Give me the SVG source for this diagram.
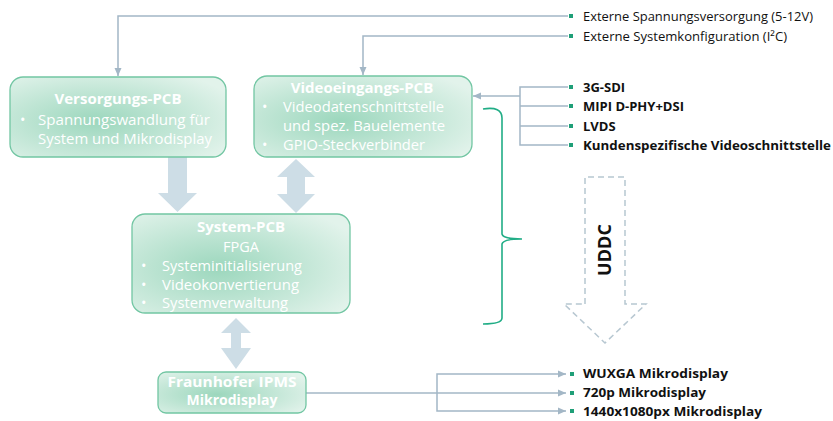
<svg xmlns="http://www.w3.org/2000/svg" width="833" height="421" viewBox="0 0 833 421">
<defs>
<radialGradient id="g" cx="0.4" cy="0.55" r="0.7">
<stop offset="0" stop-color="#9cd7bd"/>
<stop offset="1" stop-color="#e2f3eb"/>
</radialGradient>
<marker id="ah" viewBox="0 0 8 8" refX="8" refY="4" markerWidth="8" markerHeight="8" markerUnits="userSpaceOnUse" orient="auto">
<path d="M0,0.5 L8,4 L0,7.5 z" fill="#a3b7c6"/>
</marker>
<style>
.box{fill:url(#g);stroke:#72c6a3;stroke-width:1.3}
.t{font-family:"Open Sans","Noto Sans",sans-serif;fill:#fff}
.b{font-weight:bold;font-size:15px}
.n{font-size:14.5px;font-weight:normal}
.ln{fill:none;stroke:#a3b7c6;stroke-width:1.5}
.big{fill:#cddde6}
.sq{fill:#1f9f78}
.lbl{font-family:"Open Sans","Noto Sans",sans-serif;font-size:13px;fill:#111}
.lb{font-weight:bold}
</style>
</defs>

<g id="connectors">
<path class="ln" d="M568,16 H118 V76" marker-end="url(#ah)"/>
<path class="ln" d="M568,36 H363 V75" marker-end="url(#ah)"/>
<path class="ln" d="M520,96 H473" marker-end="url(#ah)"/>
<path class="ln" d="M568,87 H520 V145 H568 M520,106 H568 M520,126 H568"/>
<path class="ln" d="M306,393 H566" marker-end="url(#ah)"/>
<path class="ln" d="M437,393 V374 H566" marker-end="url(#ah)"/>
<path class="ln" d="M437,393 V411 H566" marker-end="url(#ah)"/>
<path class="big" d="M168,157 H187 V193 H197 L177.5,212 L158,193 H168 z"/>
<path class="big" d="M296,159 L315,177 H305 V194 H315 L296,213 L277,194 H287 V177 H277 z"/>
<path class="big" d="M236,318 L251,333 H241 V348 H251 L236,369 L221,348 H231 V333 H221 z"/>
<path d="M483,109 Q502,106 502,118 V234 Q503,239 522,239 Q503,239 502,244 V318 Q502,324 483,324" fill="none" stroke="#21ad86" stroke-width="1.6"/>
<path d="M585,304 V177 H625 V304 H646 L605,343 L564,304 z" fill="none" stroke="#b7c7d1" stroke-width="1.5" stroke-dasharray="6,4"/>
</g>

<g id="markers">
<rect class="sq" x="569" y="14" width="4" height="4"/>
<rect class="sq" x="569" y="34" width="4" height="4"/>
<rect class="sq" x="569" y="85" width="4" height="4"/>
<rect class="sq" x="569" y="104" width="4" height="4"/>
<rect class="sq" x="569" y="124" width="4" height="4"/>
<rect class="sq" x="569" y="143" width="4" height="4"/>
<rect class="sq" x="570" y="372" width="4" height="4"/>
<rect class="sq" x="570" y="391" width="4" height="4"/>
<rect class="sq" x="570" y="409" width="4" height="4"/>
</g>

<g id="labels">
<text class="lbl" x="583" y="21" textLength="230" lengthAdjust="spacingAndGlyphs">Externe Spannungsversorgung (5-12V)</text>
<text class="lbl" x="583" y="41" textLength="204" lengthAdjust="spacingAndGlyphs">Externe Systemkonfiguration (I²C)</text>
<text class="lbl lb" x="583" y="92">3G-SDI</text>
<text class="lbl lb" x="583" y="111">MIPI D-PHY+DSI</text>
<text class="lbl lb" x="583" y="131">LVDS</text>
<text class="lbl lb" x="583" y="150" textLength="248" lengthAdjust="spacingAndGlyphs">Kundenspezifische Videoschnittstelle</text>
<text class="lbl lb" x="583" y="378" textLength="145" lengthAdjust="spacingAndGlyphs">WUXGA Mikrodisplay</text>
<text class="lbl lb" x="583" y="397" textLength="123" lengthAdjust="spacingAndGlyphs">720p Mikrodisplay</text>
<text class="lbl lb" x="583" y="416" textLength="179" lengthAdjust="spacingAndGlyphs">1440x1080px Mikrodisplay</text>
<text x="611" y="250" transform="rotate(-90 611 250)" text-anchor="middle" style="font-family:'Open Sans','Noto Sans',sans-serif;font-weight:bold;font-size:18px;fill:#111">UDDC</text>
</g>

<g id="versorgungs-pcb">
<rect class="box" x="10" y="77" width="216" height="80" rx="13"/>
<text class="t b" x="118" y="104" text-anchor="middle">Versorgungs-PCB</text>
<text class="t n" x="20" y="125">•</text>
<text class="t n" x="38" y="125" textLength="172" lengthAdjust="spacingAndGlyphs">Spannungswandlung für</text>
<text class="t n" x="38" y="144" textLength="174" lengthAdjust="spacingAndGlyphs">System und Mikrodisplay</text>
</g>

<g id="videoeingangs-pcb">
<rect class="box" x="254" y="76" width="218" height="81" rx="13"/>
<text class="t b" x="362" y="93" text-anchor="middle">Videoeingangs-PCB</text>
<text class="t n" x="262" y="112">•</text>
<text class="t n" x="283" y="112" textLength="161" lengthAdjust="spacingAndGlyphs">Videodatenschnittstelle</text>
<text class="t n" x="283" y="131" textLength="162" lengthAdjust="spacingAndGlyphs">und spez. Bauelemente</text>
<text class="t n" x="262" y="150">•</text>
<text class="t n" x="283" y="150" textLength="142" lengthAdjust="spacingAndGlyphs">GPIO-Steckverbinder</text>
</g>

<g id="system-pcb">
<rect class="box" x="132" y="214" width="218" height="99" rx="13"/>
<text class="t b" x="241" y="232" text-anchor="middle">System-PCB</text>
<text class="t n" x="241" y="252" text-anchor="middle">FPGA</text>
<text class="t n" x="141" y="271">•</text>
<text class="t n" x="162" y="271" textLength="140" lengthAdjust="spacingAndGlyphs">Systeminitialisierung</text>
<text class="t n" x="141" y="290">•</text>
<text class="t n" x="162" y="290" textLength="137" lengthAdjust="spacingAndGlyphs">Videokonvertierung</text>
<text class="t n" x="141" y="308">•</text>
<text class="t n" x="162" y="308" textLength="126" lengthAdjust="spacingAndGlyphs">Systemverwaltung</text>
</g>

<g id="fraunhofer-ipms-mikrodisplay">
<rect class="box" x="158" y="372" width="148" height="41" rx="8"/>
<text class="t b" x="232" y="387" text-anchor="middle" textLength="129" lengthAdjust="spacingAndGlyphs" style="font-size:14px">Fraunhofer IPMS</text>
<text class="t b" x="232" y="405" text-anchor="middle" style="font-size:14px">Mikrodisplay</text>
</g>
</svg>
